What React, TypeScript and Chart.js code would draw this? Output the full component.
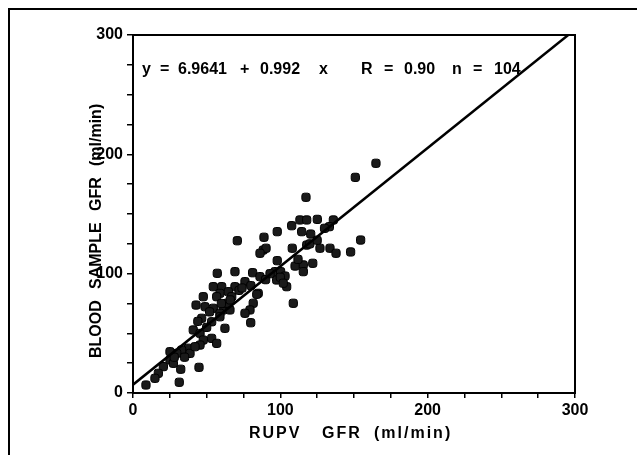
import React, { useEffect, useRef } from "react";
import { Chart, registerables } from "chart.js";

Chart.register(...registerables);

const rupvGfr: number[] = [
  164.9, 150.9, 117.4, 154.5, 147.7, 70.8, 88.9, 97.9, 107.7, 113.3, 117.9, 125.1,
  114.5, 120.6, 136.0, 133.3, 126.9, 133.7, 137.8, 88.4, 90.3, 86.2, 108.1, 117.9,
  122.0, 115.6, 110.0, 115.6, 97.9, 96.4, 100.2, 103.2, 97.5, 104.3, 108.8,
  57.2, 69.2, 81.2, 76.0, 86.2, 85.0, 81.6, 79.4, 76.0, 79.9, 84.0,
  54.5, 60.2, 69.2, 64.7, 59.0, 56.8,
  47.7, 42.8, 48.9, 54.5, 61.3, 65.8, 59.0, 63.6, 67.0,
  46.6, 53.4, 59.0, 62.4, 53.4, 56.8, 40.9, 45.5, 47.7, 45.5,
  37.5, 33.0, 29.7, 25.1, 25.1, 27.4, 20.6, 17.2, 14.9, 8.8, 32.4, 44.8, 31.4, 38.7, 42.1,
  60, 66, 52, 72, 74, 90, 93, 100, 102, 112, 120, 125, 130, 35, 28, 50, 44, 80,
];

const bloodGfr: number[] = [
  192.5, 180.7, 164.0, 128.2, 118.2, 127.6, 130.5, 135.2, 140.2, 145.0, 145.0, 145.5,
  135.2, 133.2, 145.0, 139.4, 121.3, 121.3, 117.1, 119.8, 121.3, 117.1, 121.3, 124.0,
  108.7, 107.3, 106.4, 101.7, 110.9, 101.7, 101.7, 98.0, 94.7, 89.1, 75.2,
  100.3, 101.7, 100.8, 93.3, 97.5, 83.5, 75.2, 69.6, 66.8, 58.9, 82.7,
  89.1, 89.1, 89.1, 84.9, 83.5, 80.7,
  80.7, 73.7, 72.3, 71.0, 69.6, 69.6, 66.8, 75.2, 80.7,
  62.6, 59.7, 63.9, 54.2, 45.8, 41.6, 52.8, 49.9, 44.4, 40.2,
  37.5, 36.0, 33.2, 34.6, 27.7, 24.9, 22.1, 16.5, 12.3, 6.7, 19.9, 21.5, 9.0, 33.2, 38.8,
  75, 78, 68, 86, 88, 95, 100, 97, 92, 112, 125, 128, 138, 30, 30, 55, 60, 90,
];

const fitIntercept = 6.9641;
const fitSlope = 0.992;
const fitX: number[] = [0, 298];

const xTickLabels: number[] = [0, 100, 200, 300];
const yTickLabels: number[] = [0, 100, 200, 300];

// equation tokens with their left edges (pixels)
const equationTokens: [string, number][] = [
  ["y", 142], ["=", 160], ["6.9641", 178], ["+", 240], ["0.992", 260], ["x", 319],
  ["R", 361], ["=", 384], ["0.90", 404], ["n", 452], ["=", 473], ["104", 494],
];
const xTitleWords: [string, number][] = [["RUPV", 249], ["GFR", 322], ["(ml/min)", 374]];
const yTitleWords: [string, number][] = [["BLOOD", 358], ["SAMPLE", 289], ["GFR", 211], ["(ml/min)", 166]];

const FONT = "'Liberation Sans', Arial, sans-serif";

export default function App() {
  const ref = useRef<HTMLCanvasElement | null>(null);

  useEffect(() => {
    if (!ref.current) return;
    const points = rupvGfr.map((x, i) => ({ x, y: bloodGfr[i] }));
    const line = fitX.map((x) => ({ x, y: fitIntercept + fitSlope * x }));

    const overlay = {
      id: "overlay",
      afterDraw(chart: any) {
        const { ctx, chartArea } = chart;
        ctx.save();
        ctx.strokeStyle = "#000";
        ctx.lineWidth = 2;
        ctx.strokeRect(chartArea.left, chartArea.top, chartArea.right - chartArea.left, chartArea.bottom - chartArea.top);
        ctx.fillStyle = "#000";
        ctx.font = `bold 16px ${FONT}`;
        ctx.textBaseline = "middle";
        ctx.textAlign = "left";
        for (const [t, x] of equationTokens) ctx.fillText(t, x, 70);
        (ctx as any).letterSpacing = "2px";
        for (const [t, x] of xTitleWords) ctx.fillText(t, x, 434);
        (ctx as any).letterSpacing = "0px";
        ctx.translate(97, 0);
        ctx.rotate(-Math.PI / 2);
        for (const [t, y] of yTitleWords) ctx.fillText(t, -y, 0);
        ctx.restore();
      },
    };

    const chart = new Chart(ref.current, {
      type: "scatter",
      data: {
        datasets: [
          {
            type: "line",
            data: line,
            borderColor: "#000",
            borderWidth: 2.5,
            pointRadius: 0,
            fill: false,
          } as any,
          {
            data: points,
            pointStyle: "rectRounded",
            pointRadius: 4.8,
            backgroundColor: "#1a1a1a",
            borderColor: "#000",
            borderWidth: 1,
          },
        ],
      },
      options: {
        animation: false,
        responsive: false,
        events: [],
        layout: { padding: { left: 20, top: 35, right: 62, bottom: 0 } },
        plugins: { legend: { display: false }, tooltip: { enabled: false }, title: { display: false } },
        scales: {
          x: {
            type: "linear",
            min: 0,
            max: 300,
            afterFit: (s: any) => { s.height = 62; },
            border: { display: true, color: "#000", width: 2 },
            grid: { drawOnChartArea: false, drawTicks: true, tickLength: 5, color: "#000", lineWidth: 1.5 },
            ticks: {
              stepSize: 25,
              autoSkip: false,
              maxRotation: 0,
              padding: 3,
              color: "#000",
              font: { family: FONT, size: 16, weight: "bold" },
              callback: (v: any) => (xTickLabels.includes(Number(v)) ? String(v) : ""),
            },
          },
          y: {
            type: "linear",
            min: 0,
            max: 300,
            afterFit: (s: any) => { s.width = 113; },
            border: { display: true, color: "#000", width: 2 },
            grid: { drawOnChartArea: false, drawTicks: true, tickLength: 6, color: "#000", lineWidth: 1.5 },
            ticks: {
              stepSize: 25,
              autoSkip: false,
              padding: 4,
              color: "#000",
              font: { family: FONT, size: 16, weight: "bold" },
              callback: (v: any) => (yTickLabels.includes(Number(v)) ? String(v) : ""),
            },
          },
        },
      },
      plugins: [overlay],
    } as any);
    return () => chart.destroy();
  }, []);

  return (
    <div style={{ position: "absolute", left: 0, top: 0, width: 637, height: 455, overflow: "hidden", background: "#fff" }}>
      <div style={{ position: "absolute", left: 8, top: 8, width: 700, height: 500, borderTop: "2px solid #000", borderLeft: "2px solid #000" }} />
      <canvas ref={ref} width={637} height={455} style={{ position: "absolute", left: 0, top: 0 }} />
    </div>
  );
}
